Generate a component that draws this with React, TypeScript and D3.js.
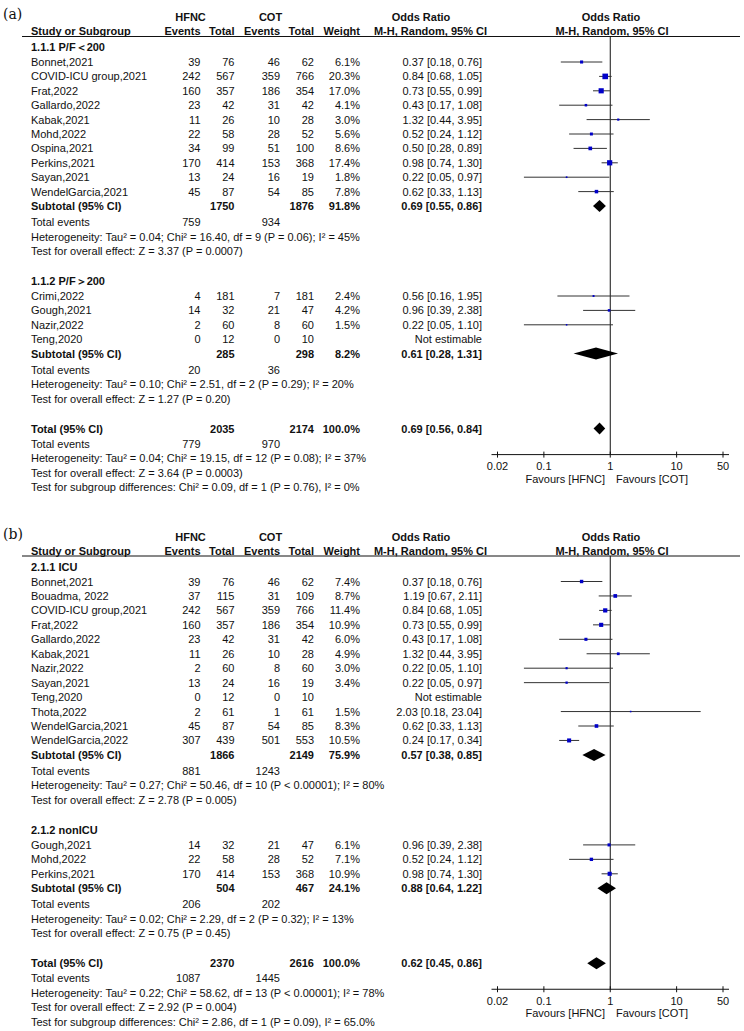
import * as d3 from "d3"

// [study, HFNC events, HFNC total, COT events, COT total, weight %, OR, lower, upper]
type Study = [string, number, number, number, number, number | null, number | null, number | null, number | null]

const a1Studies: Study[] = [
  ["Bonnet,2021", 39, 76, 46, 62, 6.1, 0.37, 0.18, 0.76],
  ["COVID-ICU group,2021", 242, 567, 359, 766, 20.3, 0.84, 0.68, 1.05],
  ["Frat,2022", 160, 357, 186, 354, 17.0, 0.73, 0.55, 0.99],
  ["Gallardo,2022", 23, 42, 31, 42, 4.1, 0.43, 0.17, 1.08],
  ["Kabak,2021", 11, 26, 10, 28, 3.0, 1.32, 0.44, 3.95],
  ["Mohd,2022", 22, 58, 28, 52, 5.6, 0.52, 0.24, 1.12],
  ["Ospina,2021", 34, 99, 51, 100, 8.6, 0.50, 0.28, 0.89],
  ["Perkins,2021", 170, 414, 153, 368, 17.4, 0.98, 0.74, 1.30],
  ["Sayan,2021", 13, 24, 16, 19, 1.8, 0.22, 0.05, 0.97],
  ["WendelGarcia,2021", 45, 87, 54, 85, 7.8, 0.62, 0.33, 1.13],
]
const a2Studies: Study[] = [
  ["Crimi,2022", 4, 181, 7, 181, 2.4, 0.56, 0.16, 1.95],
  ["Gough,2021", 14, 32, 21, 47, 4.2, 0.96, 0.39, 2.38],
  ["Nazir,2022", 2, 60, 8, 60, 1.5, 0.22, 0.05, 1.10],
  ["Teng,2020", 0, 12, 0, 10, null, null, null, null],
]
const b1Studies: Study[] = [
  ["Bonnet,2021", 39, 76, 46, 62, 7.4, 0.37, 0.18, 0.76],
  ["Bouadma, 2022", 37, 115, 31, 109, 8.7, 1.19, 0.67, 2.11],
  ["COVID-ICU group,2021", 242, 567, 359, 766, 11.4, 0.84, 0.68, 1.05],
  ["Frat,2022", 160, 357, 186, 354, 10.9, 0.73, 0.55, 0.99],
  ["Gallardo,2022", 23, 42, 31, 42, 6.0, 0.43, 0.17, 1.08],
  ["Kabak,2021", 11, 26, 10, 28, 4.9, 1.32, 0.44, 3.95],
  ["Nazir,2022", 2, 60, 8, 60, 3.0, 0.22, 0.05, 1.10],
  ["Sayan,2021", 13, 24, 16, 19, 3.4, 0.22, 0.05, 0.97],
  ["Teng,2020", 0, 12, 0, 10, null, null, null, null],
  ["Thota,2022", 2, 61, 1, 61, 1.5, 2.03, 0.18, 23.04],
  ["WendelGarcia,2021", 45, 87, 54, 85, 8.3, 0.62, 0.33, 1.13],
  ["WendelGarcia,2022", 307, 439, 501, 553, 10.5, 0.24, 0.17, 0.34],
]
const b2Studies: Study[] = [
  ["Gough,2021", 14, 32, 21, 47, 6.1, 0.96, 0.39, 2.38],
  ["Mohd,2022", 22, 58, 28, 52, 7.1, 0.52, 0.24, 1.12],
  ["Perkins,2021", 170, 414, 153, 368, 10.9, 0.98, 0.74, 1.30],
]

// [HFNC total, COT total, weight, OR, lower, upper]
const a1Subtotal = [1750, 1876, 91.8, 0.69, 0.55, 0.86]
const a2Subtotal = [285, 298, 8.2, 0.61, 0.28, 1.31]
const aTotal = [2035, 2174, 100.0, 0.69, 0.56, 0.84]
const b1Subtotal = [1866, 2149, 75.9, 0.57, 0.38, 0.85]
const b2Subtotal = [504, 467, 24.1, 0.88, 0.64, 1.22]
const bTotal = [2370, 2616, 100.0, 0.62, 0.45, 0.86]

// total events [HFNC, COT]
const a1Events = [759, 934]
const a2Events = [20, 36]
const aEvents = [779, 970]
const b1Events = [881, 1243]
const b2Events = [206, 202]
const bEvents = [1087, 1445]

const a1Notes = [
  "Heterogeneity: Tau² = 0.04; Chi² = 16.40, df = 9 (P = 0.06); I² = 45%",
  "Test for overall effect: Z = 3.37 (P = 0.0007)",
]
const a2Notes = [
  "Heterogeneity: Tau² = 0.10; Chi² = 2.51, df = 2 (P = 0.29); I² = 20%",
  "Test for overall effect: Z = 1.27 (P = 0.20)",
]
const aNotes = [
  "Heterogeneity: Tau² = 0.04; Chi² = 19.15, df = 12 (P = 0.08); I² = 37%",
  "Test for overall effect: Z = 3.64 (P = 0.0003)",
  "Test for subgroup differences: Chi² = 0.09, df = 1 (P = 0.76), I² = 0%",
]
const b1Notes = [
  "Heterogeneity: Tau² = 0.27; Chi² = 50.46, df = 10 (P < 0.00001); I² = 80%",
  "Test for overall effect: Z = 2.78 (P = 0.005)",
]
const b2Notes = [
  "Heterogeneity: Tau² = 0.02; Chi² = 2.29, df = 2 (P = 0.32); I² = 13%",
  "Test for overall effect: Z = 0.75 (P = 0.45)",
]
const bNotes = [
  "Heterogeneity: Tau² = 0.22; Chi² = 58.62, df = 13 (P < 0.00001); I² = 78%",
  "Test for overall effect: Z = 2.92 (P = 0.004)",
  "Test for subgroup differences: Chi² = 2.86, df = 1 (P = 0.09), I² = 65.0%",
]

const axisTicks = [0.02, 0.1, 1, 10, 50]

const FONT = "Liberation Sans, Arial, sans-serif"
const INK = "#111"
const BLUE = "#0000c8"
const COL = { name: 31, he: 200.5, ht: 234.5, ce: 280, ct: 314, w: 360, or: 482 }

const x = d3.scaleLog().domain([0.02, 50]).range([497.5, 723])

const fmt2 = d3.format(".2f")
const fmtW = d3.format(".1f")
const ciText = (o: number, l: number, h: number) => `${fmt2(o)} [${fmt2(l)}, ${fmt2(h)}]`

type Group = { title: string; studies: Study[]; sub: number[]; events: number[]; notes: string[] }
type PanelDef = { label: string; off: number; pitch: number; groups: Group[]; total: number[]; events: number[]; notes: string[] }

const panels: PanelDef[] = [
  {
    label: "(a)", off: 0, pitch: 14.4,
    groups: [
      { title: "1.1.1 P/F＜200", studies: a1Studies, sub: a1Subtotal, events: a1Events, notes: a1Notes },
      { title: "1.1.2 P/F＞200", studies: a2Studies, sub: a2Subtotal, events: a2Events, notes: a2Notes },
    ],
    total: aTotal, events: aEvents, notes: aNotes,
  },
  {
    label: "(b)", off: 519.5, pitch: 14.45,
    groups: [
      { title: "2.1.1 ICU", studies: b1Studies, sub: b1Subtotal, events: b1Events, notes: b1Notes },
      { title: "2.1.2 nonICU", studies: b2Studies, sub: b2Subtotal, events: b2Events, notes: b2Notes },
    ],
    total: bTotal, events: bEvents, notes: bNotes,
  },
]

const T = (props: any) => (
  <text fontFamily={FONT} fontSize={11} fill={INK} {...props} />
)

const Diamond = ({ v, y }: { v: number[]; y: number }) => {
  const [, , , o, l, h] = v
  const d = `M${x(l)},${y} L${x(o)},${y - 6} L${x(h)},${y} L${x(o)},${y + 6} Z`
  return <path d={d} fill="#000" />
}

const SummaryRow = ({ y, label, v }: { y: number; label: string; v: number[] }) => (
  <g fontWeight="bold">
    <T x={COL.name} y={y + 4} fontWeight="bold">{label}</T>
    <T x={COL.ht} y={y + 4} textAnchor="end" fontWeight="bold">{v[0]}</T>
    <T x={COL.ct} y={y + 4} textAnchor="end" fontWeight="bold">{v[1]}</T>
    <T x={COL.w} y={y + 4} textAnchor="end" fontWeight="bold">{fmtW(v[2])}%</T>
    <T x={COL.or} y={y + 4} textAnchor="end" fontWeight="bold">{ciText(v[3], v[4], v[5])}</T>
    <Diamond v={v} y={y} />
  </g>
)

const EventsRow = ({ y, ev }: { y: number; ev: number[] }) => (
  <g>
    <T x={COL.name} y={y + 4}>Total events</T>
    <T x={COL.he} y={y + 4} textAnchor="end">{ev[0]}</T>
    <T x={COL.ce} y={y + 4} textAnchor="end">{ev[1]}</T>
  </g>
)

const Panel = ({ p }: { p: PanelDef }) => {
  const off = p.off
  const items: any[] = []
  let y = off + 47
  p.groups.forEach((g, gi) => {
    if (gi > 0) y += 30
    items.push(<T key={`h${gi}`} x={COL.name} y={y + 4} fontWeight="bold">{g.title}</T>)
    y += 15
    g.studies.forEach((s, i) => {
      if (i > 0) y += p.pitch
      const [name, he, ht, ce, ct, w, o, l, h] = s
      const side = w != null ? Math.max(1.5, 1.25 * Math.sqrt(w)) : 0
      items.push(
        <g key={`s${gi}-${i}`}>
          <T x={COL.name} y={y + 4}>{name}</T>
          <T x={COL.he} y={y + 4} textAnchor="end">{he}</T>
          <T x={COL.ht} y={y + 4} textAnchor="end">{ht}</T>
          <T x={COL.ce} y={y + 4} textAnchor="end">{ce}</T>
          <T x={COL.ct} y={y + 4} textAnchor="end">{ct}</T>
          {w != null && <T x={COL.w} y={y + 4} textAnchor="end">{fmtW(w)}%</T>}
          <T x={COL.or} y={y + 4} textAnchor="end">{o != null ? ciText(o, l!, h!) : "Not estimable"}</T>
          {o != null && (
            <>
              <line x1={x(l!)} x2={x(h!)} y1={y} y2={y} stroke="#333" strokeWidth={1} />
              <rect x={x(o) - side / 2} y={y - side / 2} width={side} height={side} fill={BLUE} />
            </>
          )}
        </g>
      )
    })
    y += p.pitch
    items.push(<SummaryRow key={`sub${gi}`} y={y} label="Subtotal (95% CI)" v={g.sub} />)
    y += 16
    items.push(<EventsRow key={`ev${gi}`} y={y} ev={g.events} />)
    g.notes.forEach((n, ni) => {
      y += 14.5
      items.push(<T key={`n${gi}-${ni}`} x={COL.name} y={y + 4}>{n}</T>)
    })
  })
  y += 30
  const totalY = y
  items.push(<SummaryRow key="tot" y={y} label="Total (95% CI)" v={p.total} />)
  y += 15
  items.push(<EventsRow key="tev" y={y} ev={p.events} />)
  p.notes.forEach((n, ni) => {
    y += 14.5
    items.push(<T key={`tn${ni}`} x={COL.name} y={y + 4}>{n}</T>)
  })

  const axisY = totalY + 26
  const lineY = off + 36.5

  return (
    <g>
      <text x={3} y={off + 19} fontFamily="DejaVu Serif, Liberation Serif, serif" fontSize={14} fill={INK}>{p.label}</text>
      {/* column headers */}
      <T x={190.5} y={off + 21} textAnchor="middle" fontWeight="bold">HFNC</T>
      <T x={270.5} y={off + 21} textAnchor="middle" fontWeight="bold">COT</T>
      <T x={421} y={off + 21} textAnchor="middle" fontWeight="bold">Odds Ratio</T>
      <T x={611} y={off + 21} textAnchor="middle" fontWeight="bold">Odds Ratio</T>
      <T x={COL.name} y={off + 35} fontWeight="bold">Study or Subgroup</T>
      <T x={COL.he} y={off + 35} textAnchor="end" fontWeight="bold">Events</T>
      <T x={COL.ht} y={off + 35} textAnchor="end" fontWeight="bold">Total</T>
      <T x={COL.ce} y={off + 35} textAnchor="end" fontWeight="bold">Events</T>
      <T x={COL.ct} y={off + 35} textAnchor="end" fontWeight="bold">Total</T>
      <T x={COL.w} y={off + 35} textAnchor="end" fontWeight="bold">Weight</T>
      <T x={430.5} y={off + 35} textAnchor="middle" fontWeight="bold">M-H, Random, 95% CI</T>
      <T x={612} y={off + 35} textAnchor="middle" fontWeight="bold">M-H, Random, 95% CI</T>
      <line x1={22} x2={740} y1={lineY} y2={lineY} stroke={INK} strokeWidth={1} />
      {/* line of no effect */}
      <line x1={x(1)} x2={x(1)} y1={lineY} y2={axisY} stroke={INK} strokeWidth={1} />
      {items}
      {/* axis */}
      <line x1={x(0.02) - 6} x2={x(50) + 6} y1={axisY} y2={axisY} stroke={INK} strokeWidth={1} />
      {axisTicks.map((t) => (
        <g key={t}>
          <line x1={x(t)} x2={x(t)} y1={axisY - 3} y2={axisY + 3} stroke={INK} strokeWidth={1} />
          <T x={x(t)} y={axisY + 15.5} textAnchor="middle">{String(t)}</T>
        </g>
      ))}
      <T x={605} y={axisY + 28} textAnchor="end">Favours [HFNC]</T>
      <T x={616} y={axisY + 28}>Favours [COT]</T>
    </g>
  )
}

export default function App() {
  return (
    <svg
      width={744}
      height={1031}
      viewBox="0 0 744 1031"
      style={{ position: "absolute", left: 0, top: 0, background: "#fff" }}
    >
      <rect width={744} height={1031} fill="#fff" />
      {panels.map((p) => (
        <Panel key={p.label} p={p} />
      ))}
    </svg>
  )
}
